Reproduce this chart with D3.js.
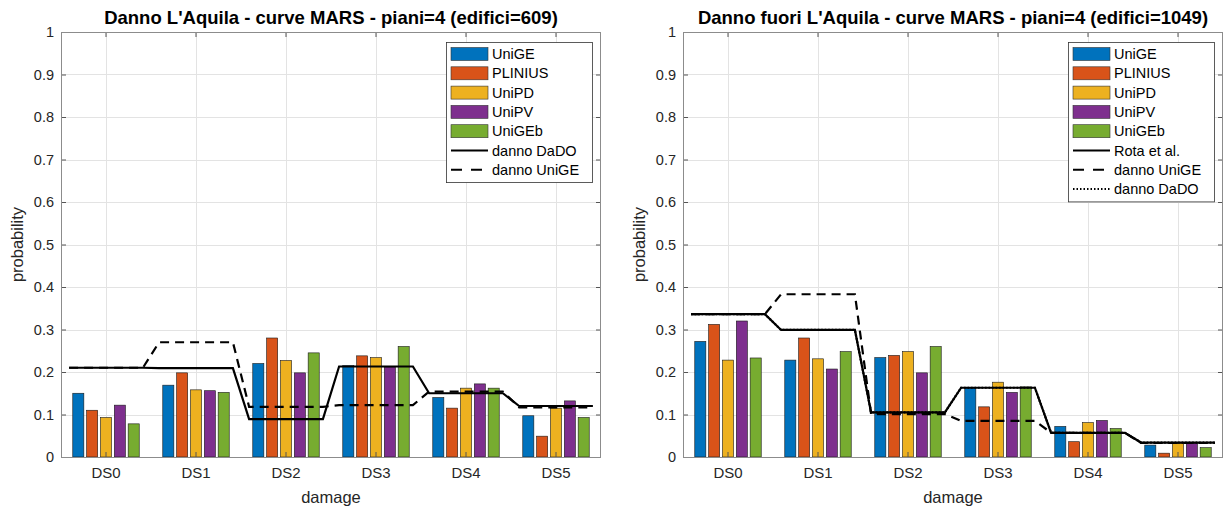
<!DOCTYPE html>
<html><head><meta charset="utf-8">
<script src="https://cdn.jsdelivr.net/npm/d3@7"></script>
<style>
html,body{margin:0;padding:0;background:#fff;}
svg{display:block;font-family:"Liberation Sans",Arial,Helvetica,sans-serif;}
</style></head>
<body>
<svg id="chart" width="1228" height="512"></svg>
<script>
// ---------- data ----------
const categories = ["DS0","DS1","DS2","DS3","DS4","DS5"];
const seriesNames = ["UniGE","PLINIUS","UniPD","UniPV","UniGEb"];
const seriesColors = ["#0072BD","#D95319","#EDB120","#7E2F8E","#77AC30"];
const yTicks = [0,0.1,0.2,0.3,0.4,0.5,0.6,0.7,0.8,0.9,1];

const titleLeft = "Danno L'Aquila - curve MARS - piani=4 (edifici=609)";
const laquilaUniGE   = [0.150,0.169,0.220,0.215,0.140,0.097];
const laquilaPLINIUS = [0.110,0.198,0.280,0.238,0.115,0.049];
const laquilaUniPD   = [0.093,0.158,0.227,0.234,0.162,0.115];
const laquilaUniPV   = [0.122,0.156,0.198,0.212,0.172,0.132];
const laquilaUniGEb  = [0.078,0.152,0.245,0.260,0.162,0.093];
const laquilaDannoDaDO  = [0.210,0.209,0.089,0.213,0.150,0.120];
const laquilaDannoUniGE = [0.210,0.270,0.118,0.122,0.154,0.117];

const titleRight = "Danno fuori L'Aquila - curve MARS - piani=4 (edifici=1049)";
const fuoriUniGE   = [0.272,0.228,0.234,0.163,0.072,0.028];
const fuoriPLINIUS = [0.312,0.280,0.239,0.118,0.036,0.009];
const fuoriUniPD   = [0.228,0.231,0.248,0.176,0.081,0.033];
const fuoriUniPV   = [0.320,0.207,0.198,0.152,0.086,0.033];
const fuoriUniGEb  = [0.233,0.248,0.260,0.165,0.067,0.022];
const fuoriRota        = [0.336,0.299,0.105,0.163,0.057,0.034];
const fuoriDannoUniGE  = [0.336,0.383,0.101,0.085,0.057,0.033];
const fuoriDannoDaDO   = [0.336,0.299,0.105,0.163,0.057,0.034];

// ---------- drawing ----------
const svg = d3.select("#chart");
const TXT = "#262626";

function drawPanel(cfg){
  const {left, top, w, h, title, bars, lines, legendRight} = cfg;
  const g = svg.append("g");
  const x = d3.scaleBand().domain(categories).range([left, left+w]).paddingInner(0).paddingOuter(0);
  const groupW = x.bandwidth() * (5/6.5);
  const xs = d3.scaleBand().domain(seriesNames).range([0, groupW]).paddingInner(0.2).paddingOuter(0.1);
  const y = d3.scaleLinear().domain([0,1]).range([top+h, top]);

  g.append("rect").attr("x",left).attr("y",top).attr("width",w).attr("height",h).attr("fill","#fff");

  // grid
  const grid = g.append("g").attr("stroke","#e3e3e3").attr("stroke-width",1);
  yTicks.forEach(t=>{ grid.append("line").attr("x1",left).attr("x2",left+w).attr("y1",Math.round(y(t))+0.5).attr("y2",Math.round(y(t))+0.5); });
  categories.forEach(c=>{ const cx=Math.round(x(c)+x.bandwidth()/2)+0.5; grid.append("line").attr("x1",cx).attr("x2",cx).attr("y1",top).attr("y2",top+h); });

  // bars
  bars.forEach((vals,j)=>{
    g.append("g").selectAll("rect").data(vals).join("rect")
      .attr("x",(d,i)=> x(categories[i]) + x.bandwidth()/2 - groupW/2 + xs(seriesNames[j]))
      .attr("width", xs.bandwidth())
      .attr("y", d=>y(d))
      .attr("height", d=>y(0)-y(d))
      .attr("fill", seriesColors[j])
      .attr("stroke","#1a1a1a").attr("stroke-width",0.6);
  });

  // lines
  const half = 0.41 * x.bandwidth();
  lines.forEach(L=>{
    const pts = [];
    L.values.forEach((v,i)=>{ const cx = x(categories[i])+x.bandwidth()/2; pts.push([cx-half,v]); pts.push([cx+half,v]); });
    g.append("path").datum(pts)
      .attr("d", d3.line().x(d=>d[0]).y(d=>y(d[1])))
      .attr("fill","none").attr("stroke","#000").attr("stroke-width",2.2)
      .attr("stroke-dasharray", L.dash || null);
  });

  // axes (ticks inward)
  const axL = d3.axisLeft(y).tickValues(yTicks).tickSize(-5).tickPadding(7)
      .tickFormat(d=> d===0?"0":(d===1?"1":d3.format(".1f")(d)));
  const gl = g.append("g").attr("transform",`translate(${left},0)`).call(axL);
  const axR = d3.axisRight(y).tickValues(yTicks).tickSize(-5).tickFormat("");
  const gr = g.append("g").attr("transform",`translate(${left+w},0)`).call(axR);
  const axB = d3.axisBottom(x).tickSize(-5).tickPadding(10);
  const gb = g.append("g").attr("transform",`translate(0,${top+h})`).call(axB);
  const axT = d3.axisTop(x).tickSize(-5).tickFormat("");
  const gt = g.append("g").attr("transform",`translate(0,${top})`).call(axT);
  [gl,gr,gb,gt].forEach(a=>{
    a.select(".domain").remove();
    a.selectAll(".tick line").attr("stroke","#555").attr("stroke-width",1);
    a.selectAll("text").attr("fill",TXT).style("font-size","14.5px").style("font-family",'"Liberation Sans",Arial,sans-serif');
  });
  gb.selectAll("text").style("font-size","15px");
  g.append("rect").attr("x",left+0.5).attr("y",top+0.5).attr("width",w-1).attr("height",h)
    .attr("fill","none").attr("stroke","#8c8c8c").attr("stroke-width",1);

  // labels
  g.append("text").attr("x",left+w/2).attr("y",top-8).attr("text-anchor","middle")
    .attr("font-weight","bold").attr("font-size","18.5px").attr("fill","#000").text(title);
  g.append("text").attr("x",left+w/2).attr("y",top+h+46).attr("text-anchor","middle")
    .attr("font-size","16.5px").attr("fill",TXT).text("damage");
  g.append("text").attr("transform",`translate(${left-38},${top+h/2}) rotate(-90)`).attr("text-anchor","middle")
    .attr("font-size","16.5px").attr("fill",TXT).text("probability");

  // legend
  const entries = seriesNames.map((n,j)=>({name:n,type:"bar",color:seriesColors[j]}))
    .concat(lines.map(L=>({name:L.name,type:"line",dash:L.dash, legDash:L.legDash})));
  const rowH = 19.3, legTop = top+10;
  const legW = cfg.legendWidth;
  const legLeft = legendRight - legW;
  const legH = entries.length*rowH + 5;
  const lg = g.append("g");
  lg.append("rect").attr("x",legLeft+0.5).attr("y",legTop+0.5).attr("width",legW).attr("height",legH)
    .attr("fill","#fff").attr("stroke","#333").attr("stroke-width",0.8);
  entries.forEach((e,i)=>{
    const cy = legTop + 12 + i*rowH;
    if(e.type==="bar"){
      lg.append("rect").attr("x",legLeft+5).attr("y",cy-6.5).attr("width",37).attr("height",13)
        .attr("fill",e.color).attr("stroke","#333").attr("stroke-width",0.6);
    } else {
      lg.append("line").attr("x1",legLeft+5).attr("x2",legLeft+42).attr("y1",cy).attr("y2",cy)
        .attr("stroke","#000").attr("stroke-width",2).attr("stroke-dasharray",e.legDash||e.dash||null);
    }
    lg.append("text").attr("x",legLeft+46).attr("y",cy+5).attr("font-size","14.5px").attr("fill","#000").text(e.name);
  });
}

drawPanel({left:61, top:32, w:540, h:425, title:titleLeft, legendRight:592, legendWidth:146,
  bars:[laquilaUniGE,laquilaPLINIUS,laquilaUniPD,laquilaUniPV,laquilaUniGEb],
  lines:[{name:"danno DaDO",values:laquilaDannoDaDO},
         {name:"danno UniGE",values:laquilaDannoUniGE,dash:"9,6",legDash:"11,9"}]});

drawPanel({left:683, top:32, w:540, h:425, title:titleRight, legendRight:1214, legendWidth:146,
  bars:[fuoriUniGE,fuoriPLINIUS,fuoriUniPD,fuoriUniPV,fuoriUniGEb],
  lines:[{name:"Rota et al.",values:fuoriRota},
         {name:"danno UniGE",values:fuoriDannoUniGE,dash:"9,6",legDash:"11,9"},
         {name:"danno DaDO",values:fuoriDannoDaDO,dash:"1.5,2",legDash:"1.5,2"}]});
</script>
</body></html>
